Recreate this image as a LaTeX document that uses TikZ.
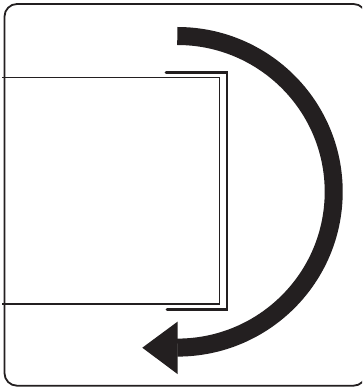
\documentclass[tikz,border=0pt]{standalone}
\definecolor{ink}{HTML}{231F20}
\tikzset{
  thinline/.style={draw=ink,line width=1.8pt},
  doorline/.style={draw=ink,line width=2.8pt,line cap=round,line join=miter},
  framestyle/.style={draw=ink,line width=1.8pt,rounded corners=12.5pt},
  sweep/.style={draw=ink,line width=18pt},
  sweephead/.style={fill=ink}
}
\begin{document}
\begin{tikzpicture}[x=1pt,y=-1pt]
\useasboundingbox (0,0) rectangle (362,387);
\clip (0,0) rectangle (362,387);
\fill[white] (0,0) rectangle (362,387);
\draw[framestyle] (4.5,4) rectangle (366,385.7);
\draw[thinline] (2,77.5) -- (219.5,77.5) -- (219.5,304) -- (2,304);
\draw[doorline] (166,72.5) -- (227,72.5) -- (227,309.7) -- (167,309.7);
\draw[sweep] (177.3,36) arc[start angle=90,end angle=-90,x radius=156.4,y radius=-155.8];
\fill[sweephead] (142.3,347.7) -- (177.5,321.7) -- (177.5,374) -- cycle;
\end{tikzpicture}
\end{document}
